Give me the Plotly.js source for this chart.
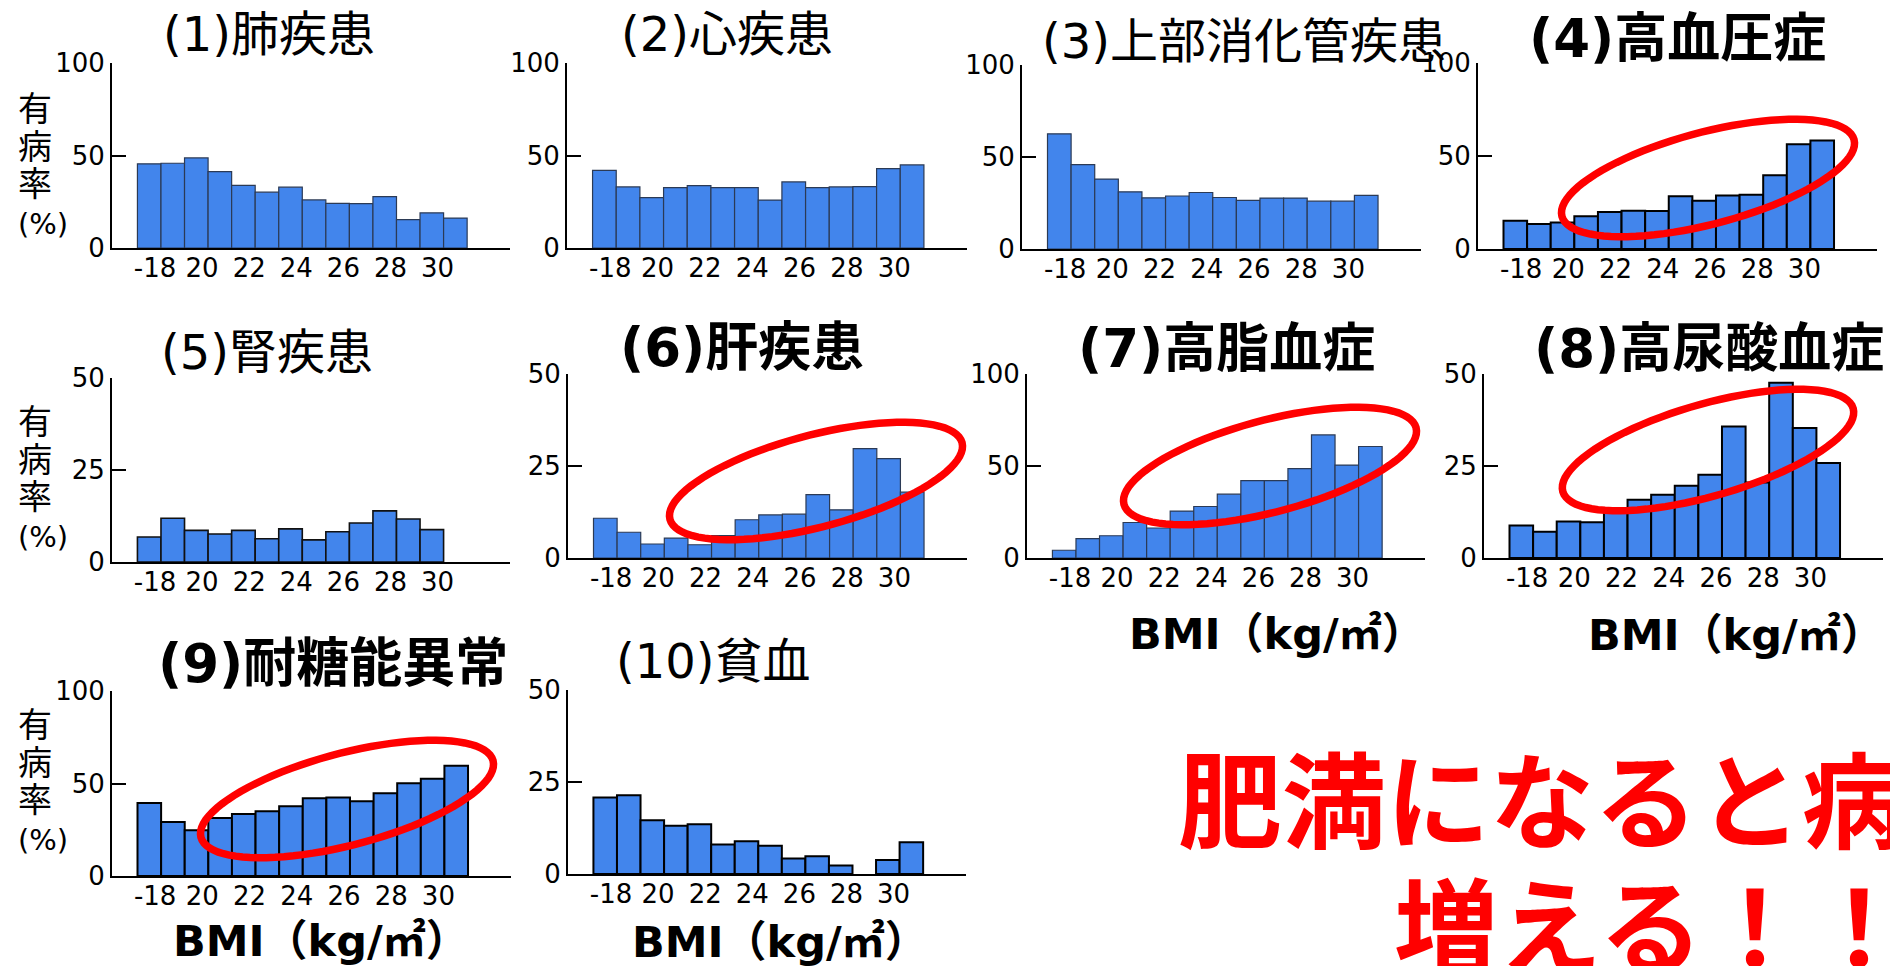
<!DOCTYPE html>
<html><head><meta charset="utf-8">
<script src="https://cdn.plot.ly/plotly-3.0.1.min.js"></script>
<style>html,body{margin:0;padding:0;background:#fff;overflow:hidden}</style>
</head><body><div id="chart" style="width:1890px;height:966px"></div>
<script>
// ---- data ----
const bmiBins = [17,18,19,20,21,22,23,24,25,26,27,28,29,30];   // lower bound of each 1-unit BMI bin
const bmiTickVals = [18,20,22,24,26,28,30];
const bmiTickText = ["-18","20","22","24","26","28","30"];

const lungDisease   = [45.5,45.8,48.7,41.3,33.9,30.2,32.9,26.0,24.1,24.0,27.8,15.3,19.0,16.2];
const heartDisease  = [42.0,33.0,27.2,32.6,33.7,32.6,32.6,25.9,35.7,32.6,33.0,33.2,42.9,44.9];
const upperGIDisease= [62.6,45.9,38.0,31.1,27.8,28.8,30.7,28.0,26.4,27.7,27.7,26.0,26.0,29.1];
const hypertension  = [15.2,13.4,14.3,17.6,19.9,20.6,20.4,28.3,26.0,28.7,29.2,39.6,56.3,58.4];
const kidneyDisease = [6.8,11.9,8.6,7.6,8.6,6.3,9.0,6.0,8.2,10.6,13.9,11.7,8.8,null];
const liverDisease  = [10.8,7.0,3.8,5.4,3.6,6.1,10.4,11.7,11.9,17.2,13.1,29.7,27.0,17.9];
const hyperlipidemia= [4.2,10.5,12.1,19.3,16.3,25.5,28.0,34.7,42.0,42.0,48.6,66.9,50.5,60.6];
const hyperuricemia = [8.8,7.1,9.9,9.7,13.0,15.8,17.2,19.6,22.6,35.7,20.5,47.6,35.3,25.8];
const glucoseIntol  = [39.5,29.2,24.7,31.4,33.5,35.0,37.7,42.0,42.5,40.4,44.7,50.1,52.6,59.6];
const anemia        = [20.8,21.4,14.6,13.1,13.5,8.0,8.9,7.7,4.2,4.8,2.3,null,3.8,8.6];

const titles = ["(1)肺疾患","(2)心疾患","(3)上部消化管疾患","(4)高血圧症","(5)腎疾患",
                "(6)肝疾患","(7)高脂血症","(8)高尿酸血症","(9)耐糖能異常","(10)貧血"];
const yMax = [100,100,100,100,50,50,100,50,100,50];
const series = [lungDisease,heartDisease,upperGIDisease,hypertension,kidneyDisease,
                liverDisease,hyperlipidemia,hyperuricemia,glucoseIntol,anemia];
const yLabelChars = ["有","病","率"];
const yLabelUnit = "(%)";
const xLabel = "BMI（kg/㎡）";
const message1 = "肥満になると病気が";
const message2 = "増える！！";

// ---- layout (pixels on a 1890x966 page) ----
const W = 1890, H = 966;
const FONT = "DejaVu Sans, Noto Sans CJK JP, sans-serif";
const BLUE = "#4285EC";
const geo = [
  {x:[112,510],  y:[63,248],  tx:269,  ty:34,  bold:false, lw:1.2, lc:"#2b3a55"},
  {x:[567,967],  y:[63,248],  tx:727,  ty:34,  bold:false, lw:1.2, lc:"#2b3a55"},
  {x:[1022,1421],y:[65,249],  tx:1244, ty:41,  bold:false, lw:1.2, lc:"#2b3a55"},
  {x:[1478,1877],y:[63,249],  tx:1677, ty:38,  bold:true,  lw:2,   lc:"#000"},
  {x:[112,510],  y:[378,562], tx:267,  ty:352, bold:false, lw:1.6, lc:"#111"},
  {x:[568,967],  y:[374,558], tx:742,  ty:347, bold:true,  lw:1.2, lc:"#2b3a55"},
  {x:[1027,1425],y:[374,558], tx:1226, ty:348, bold:true,  lw:1.2, lc:"#2b3a55"},
  {x:[1484,1883],y:[374,558], tx:1709, ty:348, bold:true,  lw:2,   lc:"#000"},
  {x:[112,511],  y:[691,876], tx:333,  ty:663, bold:true,  lw:2,   lc:"#000"},
  {x:[568,966],  y:[690,874], tx:713,  ty:661, bold:false, lw:2,   lc:"#000"}
];
const px = v => v / W;
const py = v => 1 - v / H;

const data = [], layout = {
  width: W, height: H, margin:{l:0,r:0,t:0,b:0},
  paper_bgcolor:"#fff", plot_bgcolor:"rgba(0,0,0,0)",
  showlegend:false, bargap:0, font:{family:FONT, color:"#000"},
  annotations:[], shapes:[]
};

series.forEach((vals, i) => {
  const g = geo[i], k = i + 1;
  const xa = "x" + (k === 1 ? "" : k), ya = "y" + (k === 1 ? "" : k);
  data.push({
    type:"bar", x:bmiBins, y:vals, width:1, offset:0, xaxis:xa, yaxis:ya,
    marker:{color:BLUE, line:{color:g.lc, width:g.lw}}, hoverinfo:"skip"
  });
  layout["xaxis" + (k === 1 ? "" : k)] = {
    domain:[px(g.x[0]), px(g.x[1])], anchor:ya, range:[15.92, 32.82],
    showline:true, linecolor:"#000", linewidth:2, showgrid:false, zeroline:false,
    ticks:"", tickvals:bmiTickVals, ticktext:bmiTickText, ticklabelshift:-6, ticklabelstandoff:-4,
    tickfont:{family:FONT, size:26, color:"#000"}, fixedrange:true
  };
  layout["yaxis" + (k === 1 ? "" : k)] = {
    domain:[py(g.y[1]), py(g.y[0])], anchor:xa, range:[0, yMax[i]],
    showline:true, linecolor:"#000", linewidth:2, showgrid:false, zeroline:false,
    ticks:"inside", ticklen:14, tickwidth:2, tickcolor:"#000", dtick:yMax[i] / 2,
    tickfont:{family:FONT, size:26, color:"#000"}, fixedrange:true
  };
  layout.annotations.push({
    xref:"paper", yref:"paper", x:px(g.tx), y:py(g.ty), xanchor:"center", yanchor:"middle",
    text:titles[i], showarrow:false,
    font:{family:FONT, size:g.bold ? 53 : 48, weight:g.bold ? "bold" : "normal", color:"#000"}
  });
});

// y-axis labels (left column), stacked vertically
const yLabelText = yLabelChars.map(c => '<span style="font-size:34px">' + c + '</span>').join("<br>") + "<br>" + yLabelUnit;
[165, 478, 781].forEach(cy => layout.annotations.push({
  xref:"paper", yref:"paper", x:px(16), y:py(cy), xanchor:"left", yanchor:"middle", align:"left",
  text:yLabelText, showarrow:false, font:{family:FONT, size:29, color:"#000"}
}));
// x-axis labels
[[1277,634],[1736,635],[321,941],[780,942]].forEach(p => layout.annotations.push({
  xref:"paper", yref:"paper", x:px(p[0]), y:py(p[1]), xanchor:"center", yanchor:"middle",
  text:xLabel, showarrow:false, font:{family:FONT, size:43, weight:"bold", color:"#000"}
}));
// big red message (runs off the page as in the original slide)
layout.annotations.push({
  xref:"paper", yref:"paper", x:px(1176), y:py(795), xanchor:"left", yanchor:"middle",
  text:message1, showarrow:false, font:{family:"Noto Sans CJK JP", size:104, weight:"bold", color:"#FF0000"}
});
layout.annotations.push({
  xref:"paper", yref:"paper", x:px(1392), y:py(921), xanchor:"left", yanchor:"middle",
  text:message2, showarrow:false, font:{family:"Noto Sans CJK JP", size:104, weight:"bold", color:"#FF0000"}
});

// red highlight ellipses (decoration): centre px, semi-axes, tilt
const ellipses = [
  {cx:1708, cy:178, a:151, b:46, deg:14.7},
  {cx:816,  cy:481, a:151, b:46, deg:14.7},
  {cx:1270, cy:466, a:151, b:46, deg:14.7},
  {cx:1708, cy:450, a:151, b:46, deg:16},
  {cx:347,  cy:799, a:151, b:46, deg:14.7}
];
ellipses.forEach(e => {
  const th = e.deg * Math.PI / 180, n = 90;
  let d = "";
  for (let j = 0; j <= n; j++) {
    const t = 2 * Math.PI * j / n;
    const X = e.cx + e.a * Math.cos(t) * Math.cos(th) - e.b * Math.sin(t) * Math.sin(th);
    const Y = e.cy - (e.a * Math.cos(t) * Math.sin(th) + e.b * Math.sin(t) * Math.cos(th));
    d += (j === 0 ? "M" : "L") + px(X).toFixed(5) + "," + py(Y).toFixed(5);
  }
  d += "Z";
  layout.shapes.push({type:"path", xref:"paper", yref:"paper", path:d,
    line:{color:"#FF0000", width:7.5}, fillcolor:"rgba(0,0,0,0)", layer:"above"});
});

Plotly.newPlot("chart", data, layout, {staticPlot:true, displayModeBar:false});
</script></body></html>
